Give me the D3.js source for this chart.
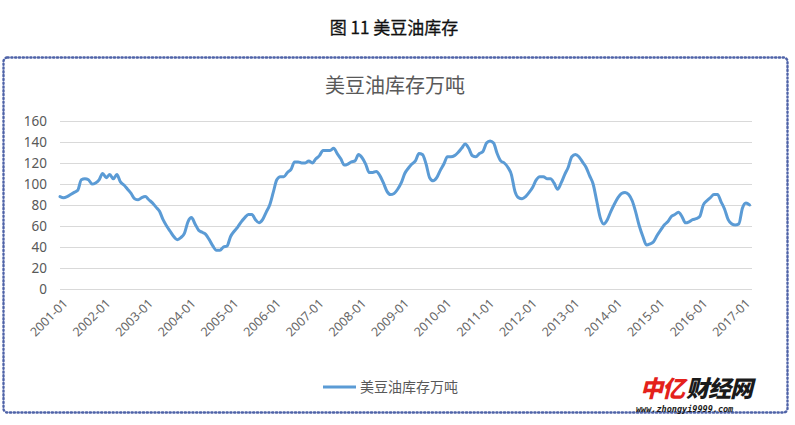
<!DOCTYPE html>
<html>
<head>
<meta charset="utf-8">
<script src="https://cdn.jsdelivr.net/npm/d3@7"></script>
<style>
  html, body { margin: 0; padding: 0; background: #fff; }
  svg { display: block; font-family: "Noto Sans CJK SC", "Noto Sans", sans-serif; }
</style>
</head>
<body>
<svg id="chart" width="795" height="425"></svg>
<script>
// ---- data ----
const figureTitle = "图 11  美豆油库存";
const chartTitle = "美豆油库存万吨";
const seriesName = "美豆油库存万吨";
const startMonth = "2001-01";
const endMonth = "2017-03";
const stock = [
  88, 87, 88, 90, 92, 94, 104, 105, 104, 100, 101, 104,          // 2001
  110, 106, 109, 105, 109, 102, 99, 95, 91, 86, 85, 87,          // 2002
  88, 85, 82, 78, 74, 66, 60, 55, 50, 47, 49, 53,                // 2003
  64, 68, 62, 56, 54, 52, 47, 41, 37, 37, 40, 41,                // 2004
  50, 55, 59, 64, 68, 71, 71, 66, 63, 66, 73, 80,                // 2005
  92, 104, 107, 107, 111, 114, 121, 121, 120, 120, 122, 120,     // 2006
  124, 127, 132, 132, 132, 134, 129, 124, 118, 119, 121, 122,    // 2007
  128, 125, 119, 111, 111, 112, 108, 101, 93, 90, 91, 95,        // 2008
  101, 110, 115, 119, 122, 129, 128, 119, 106, 103, 106, 113,    // 2009
  119, 126, 126, 127, 130, 134, 138, 134, 127, 126, 129, 131,    // 2010
  139, 141, 139, 129, 122, 120, 116, 109, 93, 87, 86, 88,        // 2011
  92, 97, 104, 107, 107, 105, 105, 101, 95, 101, 109, 116,       // 2012
  126, 128, 126, 121, 116, 108, 100, 84, 68, 62, 66, 74,         // 2013
  81, 87, 91, 92, 90, 84, 73, 60, 50, 42, 43, 45,                // 2014
  51, 56, 61, 64, 69, 71, 73, 69, 63, 64, 66, 67,                // 2015
  69, 80, 84, 87, 90, 90, 83, 76, 66, 62, 61, 62,                // 2016
  77, 82, 80                                                      // 2017
];
const yTicks = [0, 20, 40, 60, 80, 100, 120, 140, 160];
const xTickLabels = ["2001-01","2002-01","2003-01","2004-01","2005-01","2006-01","2007-01","2008-01","2009-01",
  "2010-01","2011-01","2012-01","2013-01","2014-01","2015-01","2016-01","2017-01"];

// ---- categories ----
const fmt = d3.timeFormat("%Y-%m");
const parse = d3.timeParse("%Y-%m");
const months = d3.timeMonth.range(parse(startMonth), d3.timeMonth.offset(parse(endMonth), 1)).map(fmt);
const data = months.map((m, i) => ({ m, v: stock[i] }));

const svg = d3.select("#chart");

// dotted frame
svg.append("rect")
  .attr("x", 3.5).attr("y", 57.5).attr("width", 784).attr("height", 355)
  .attr("rx", 4)
  .attr("fill", "none").attr("stroke", "#4f63a8").attr("stroke-width", 2.4)
  .attr("stroke-dasharray", "1.2 2.6").attr("stroke-linecap", "round");

// figure title
svg.append("text")
  .attr("x", 394).attr("y", 34).attr("text-anchor", "middle")
  .attr("font-size", 17).attr("font-weight", 400).attr("fill", "#111")
  .attr("stroke", "#111").attr("stroke-width", 0.3)
  .text(figureTitle);

// chart title
svg.append("text")
  .attr("x", 395).attr("y", 93).attr("text-anchor", "middle")
  .attr("font-size", 20).attr("fill", "#595959")
  .text(chartTitle);

const x = d3.scalePoint().domain(months).range([60, 749.5]);
const y = d3.scaleLinear().domain([0, 160]).range([289, 121]);

// gridlines
svg.append("g").selectAll("line").data(yTicks).join("line")
  .attr("x1", 60).attr("x2", 752)
  .attr("y1", d => y(d) + 0.5).attr("y2", d => y(d) + 0.5)
  .attr("stroke", "#d9d9d9").attr("stroke-width", 1);

// y axis labels
const yAxis = d3.axisLeft(y).tickValues(yTicks).tickSize(0).tickPadding(0);
const gy = svg.append("g").attr("transform", "translate(47,0)").call(yAxis);
gy.select(".domain").remove();
gy.selectAll("text").attr("font-size", 13.5).attr("fill", "#595959")
  .attr("font-family", "'Noto Sans', sans-serif");

// x axis labels
const xAxis = d3.axisBottom(x).tickValues(xTickLabels).tickSize(0).tickPadding(0);
const gx = svg.append("g").attr("transform", "translate(0,289)").call(xAxis);
gx.select(".domain").remove();
gx.selectAll("text")
  .attr("font-size", 12.5).attr("fill", "#666")
  .attr("font-family", "'Noto Sans', sans-serif")
  .attr("text-anchor", "end")
  .attr("transform", "translate(5,12) rotate(-45)")
  .attr("dy", "0.35em").attr("y", 0);

// line
const line = d3.line().x(d => x(d.m)).y(d => y(d.v)).curve(d3.curveMonotoneX);
svg.append("path").datum(data)
  .attr("d", line)
  .attr("fill", "none").attr("stroke", "#5b9bd5").attr("stroke-width", 3)
  .attr("stroke-linejoin", "round").attr("stroke-linecap", "round");

// legend
svg.append("line").attr("x1", 323).attr("x2", 356).attr("y1", 387).attr("y2", 387)
  .attr("stroke", "#5b9bd5").attr("stroke-width", 3);
svg.append("text").attr("x", 360).attr("y", 392)
  .attr("font-size", 14).attr("fill", "#595959").text(seriesName);

// watermark
const wm = svg.append("g");
wm.append("text").attr("x", 640).attr("y", 397)
  .attr("font-size", 23).attr("font-weight", 900).attr("font-style", "italic")
  .attr("fill", "#e4211b").attr("letter-spacing", -1).text("中亿");
wm.append("text").attr("x", 686).attr("y", 397)
  .attr("font-size", 23).attr("font-weight", 900).attr("font-style", "italic")
  .attr("fill", "#1a1a1a").attr("letter-spacing", -1).text("财经网");
wm.append("text").attr("x", 636).attr("y", 412)
  .attr("font-size", 8.5).attr("font-weight", 700).attr("font-style", "italic")
  .attr("font-family", "'DejaVu Sans Mono', monospace")
  .attr("fill", "#1a1a1a").text("www.zhongyi9999.com");
</script>
</body>
</html>
